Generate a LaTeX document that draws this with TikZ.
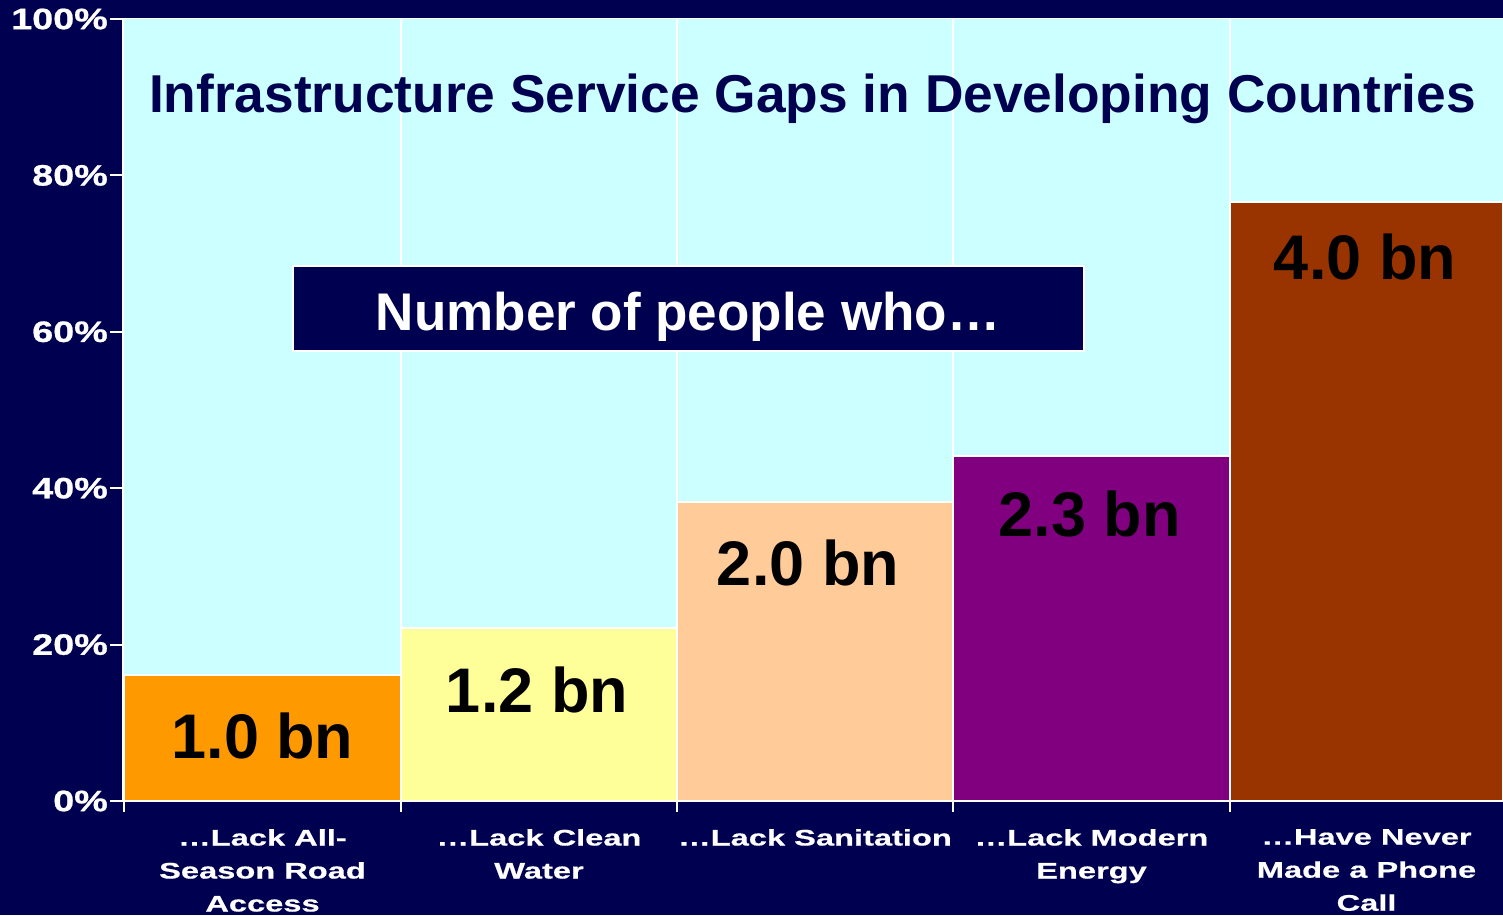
\documentclass[tikz,border=0pt]{standalone}
\usepackage{fontspec}
\setmainfont{Liberation Sans}
\newfontfamily\axisfont[FakeStretch=1.28,FakeBold=0.8]{Liberation Sans}
\newfontfamily\catfont[FakeStretch=1.45,FakeBold=0.6]{Liberation Sans}
\definecolor{navy}{RGB}{0,0,80}
\definecolor{plotbg}{RGB}{204,255,255}
\definecolor{barA}{RGB}{255,153,0}
\definecolor{barB}{RGB}{255,255,153}
\definecolor{barC}{RGB}{255,204,153}
\definecolor{barD}{RGB}{128,0,128}
\definecolor{barE}{RGB}{153,51,0}
\tikzset{
  barbox/.style={draw=white, line width=2pt},
  axisline/.style={draw=white, line width=2pt},
  sepline/.style={draw=white, line width=1.5pt},
  ticklabel/.style={anchor=east, inner sep=0pt, text=white, font=\axisfont\bfseries\fontsize{29.5}{32}\selectfont},
  catlabel/.style={anchor=north, inner sep=0pt, align=center, text=white, font=\catfont\bfseries\fontsize{22.5}{33}\selectfont},
  vallabel/.style={anchor=base, inner sep=0pt, text=black, font=\bfseries\fontsize{63}{70}\selectfont},
}
\begin{document}
\begin{tikzpicture}[x=1pt,y=-1pt]
\useasboundingbox (0,0) rectangle (1503,915);
\fill[navy] (0,0) rectangle (1503,915);
% plot area
\fill[plotbg] (124,19) rectangle (1503,801);
% separators
\foreach \x in {401,677,953,1230} \draw[sepline] (\x,19) -- (\x,801);
% bars
\filldraw[barbox, fill=barA] (124,675) rectangle (401,801);
\filldraw[barbox, fill=barB] (401,628) rectangle (677,801);
\filldraw[barbox, fill=barC] (677,502) rectangle (953,801);
\filldraw[barbox, fill=barD] (953,456) rectangle (1230,801);
\filldraw[barbox, fill=barE] (1230,202) rectangle (1503,801);
% top border
\draw[white, line width=1pt] (124,19) -- (1503,19);
% axes
\draw[axisline] (123,19) -- (123,801) -- (1503,801);
% y ticks and labels
\foreach \v in {0,20,40,60,80,100} {
  \draw[axisline] (110,{801-7.82*\v}) -- (124,{801-7.82*\v});
  \node[ticklabel] (tick\v) at (108,{801-7.82*\v}) {\v\%};
}
% x ticks
\foreach \x in {124,401,677,953,1230} \draw[axisline] (\x,801) -- (\x,812);
% title
\node[anchor=base, inner sep=0pt, text=navy, font=\bfseries\fontsize{53.3}{60}\selectfont] (title) at (812.5,113) {Infrastructure Service Gaps in Developing Countries};
% box
\node[draw=white, line width=1.5pt, fill=navy, minimum width=791pt, minimum height=85pt, inner sep=0pt] (box) at (688.5,308.5) {};
\node[anchor=base, inner sep=0pt, text=white, font=\bfseries\fontsize{53}{60}\selectfont] (boxtext) at (688,330) {Number of people who…};
% value labels
\node[vallabel] (vA) at (262.5,758) {1.0 bn};
\node[vallabel] (vB) at (537,712) {1.2 bn};
\node[vallabel] (vC) at (808,585) {2.0 bn};
\node[vallabel] (vD) at (1089.5,536) {2.3 bn};
\node[vallabel] (vE) at (1365,279) {4.0 bn};
% category labels
\node[catlabel] (cA) at (262.5,829) {…Lack All-\\Season Road\\Access};
\node[catlabel] (cB) at (539,829) {…Lack Clean\\Water};
\node[catlabel] (cC) at (815,829) {…Lack Sanitation};
\node[catlabel] (cD) at (1091.5,829) {…Lack Modern\\Energy};
\node[catlabel] (cE) at (1366.5,829) {…Have Never\\Made a Phone\\Call};
\end{tikzpicture}
\end{document}
